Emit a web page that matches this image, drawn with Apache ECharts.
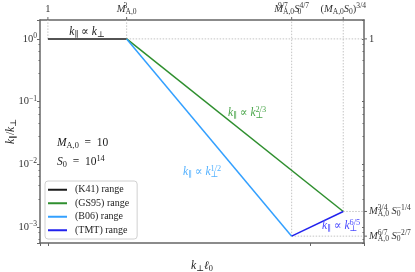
<!DOCTYPE html>
<html><head><meta charset="utf-8">
<script src="https://cdn.jsdelivr.net/npm/echarts@6/dist/echarts.min.js"></script>
<style>html,body{margin:0;padding:0;background:#fff}#c{width:415px;height:272px}</style>
</head><body><div id="c"></div>
<script>
// ---------------- data ----------------
const seriesNames = ['(K41) range', '(GS95) range', '(B06) range', '(TMT) range'];
const seriesColors = ['#1a1a1a', '#2f8f2f', '#33a0ff', '#2222ee'];
const k41X = [1, 1e3];
const k41Y = [1, 1];
const gs95X = [1e3, 1.78e11];
const gs95Y = [1, 1.78e-3];
const b06X = [1e3, 1.93e9];
const b06Y = [1, 7.2e-4];
const tmtX = [1.93e9, 1.78e11];
const tmtY = [7.2e-4, 1.78e-3];
const xRange = [0.5, 1.1e12];
const yRange = [5.6e-4, 2.0];
const xLabelExponents = [1, 3, 5, 7, 9, 11];
const yLabelExponents = [0, -1, -2, -3];
const topTickValues = [1, 1e3, 1.93e9, 1.78e11];
const topTickLabels = [
  '{n|1}',
  '{i|M}{supz|3}{sub|A,0}',
  '{i|M}{supz|9/7}{sub|A,0}{i|S}{subz|0}{sup|4/7}',
  '{n|(}{i|M}{sub|A,0}{i|S}{sub|0}{n|)}{sup|3/4}'
];
const rightTickValues = [1, 1.78e-3, 7.2e-4];
const rightTickLabels = [
  '{n|1}',
  '{i|M}{supz|3/4}{sub|A,0}{n| }{i|S}{subz|0}{sup|−1/4}',
  '{i|M}{supz|6/7}{sub|A,0}{n| }{i|S}{subz|0}{sup|−2/7}'
];
const annotations = [
  {text: '{i|k}{sub|∥}{n| ∝ }{i|k}{sub|⊥}', color: '#1a1a1a', x: 87, y: 32, align: 'center'},
  {text: '{i|M}{sub|A,0}{n|  =  10}', color: '#1a1a1a', x: 57, y: 143, align: 'left'},
  {text: '{i|S}{sub|0}{n|  =  10}{sup|14}', color: '#1a1a1a', x: 57, y: 162, align: 'left'},
  {text: '{i|k}{sub|∥}{n| ∝ }{i|k}{subz|⊥}{sup|2/3}', color: '#4aa64a', x: 228, y: 113, align: 'left'},
  {text: '{i|k}{sub|∥}{n| ∝ }{i|k}{subz|⊥}{sup|1/2}', color: '#55b2ff', x: 183, y: 172, align: 'left'},
  {text: '{i|k}{sub|∥}{n| ∝ }{i|k}{subz|⊥}{sup|6/5}', color: '#4a4aff', x: 322, y: 226, align: 'left'}
];

// ---------------- styles ----------------
const FONT = 'Liberation Serif, DejaVu Serif, serif';
function rich(size, color) {
  const s = Math.round(size * 0.72 * 10) / 10;
  const base = {fontFamily: FONT, fontSize: size, lineHeight: 14, color: color, fill: color};
  const small = {fontFamily: FONT, fontSize: s, lineHeight: s, color: color, fill: color};
  return {
    n: Object.assign({}, base),
    i: Object.assign({}, base, {fontStyle: 'italic'}),
    sup: Object.assign({}, small, {verticalAlign: 'top'}),
    sub: Object.assign({}, small, {verticalAlign: 'bottom'}),
    supz: Object.assign({}, small, {verticalAlign: 'top', width: 0.01}),
    subz: Object.assign({}, small, {verticalAlign: 'bottom', width: 0.01})
  };
}
const AX = '#666';
const pairs = (xs, ys) => xs.map((x, i) => [x, ys[i]]);
function expLabel(allowed) {
  return function (v) {
    const e = Math.log10(v);
    const r = Math.round(e);
    if (Math.abs(e - r) > 1e-6 || allowed.indexOf(r) < 0) return '';
    return '{n|10}{sup|' + (r < 0 ? '−' + (-r) : r) + '}';
  };
}

const chart = echarts.init(document.getElementById('c'), null, {renderer: 'canvas'});
const lineData = [pairs(k41X, k41Y), pairs(gs95X, gs95Y), pairs(b06X, b06Y), pairs(tmtX, tmtY)];
const series = lineData.map((d, k) => ({
  name: seriesNames[k], type: 'line', data: d, symbol: 'none', z: 5,
  lineStyle: {color: seriesColors[k], width: 1.5}, itemStyle: {color: seriesColors[k]}
}));
// dotted guide lines from break points to the upper / right frame
const guides = [];
topTickValues.forEach((x, k) => {
  const yv = k === 0 ? 1 : k === 1 ? 1 : k === 2 ? b06Y[1] : gs95Y[1];
  guides.push([[x, yv], [x, yRange[1]]]);
});
rightTickValues.forEach((y, k) => {
  const xv = k === 0 ? k41X[1] : k === 1 ? gs95X[1] : b06X[1];
  guides.push([[xv, y], [xRange[1], y]]);
});
guides.forEach(g => series.push({
  type: 'line', data: g, symbol: 'none', silent: true, z: 1,
  lineStyle: {color: '#c4c4c4', width: 1, type: [1.5, 1.5]}
}));

chart.setOption({
  animation: false,
  grid: {left: 40, right: 51, top: 20, bottom: 29, containLabel: false, outerBoundsMode: 'none'},
  legend: {
    orient: 'vertical', left: 45, top: 181, data: seriesNames,
    icon: 'rect', itemWidth: 19, itemHeight: 2, itemGap: 0,
    padding: [2, 8, 2, 3], borderColor: '#d0d0d0', borderWidth: 1, borderRadius: 3,
    backgroundColor: '#fff',
    textStyle: {fontFamily: FONT, fontSize: 10, color: '#222', lineHeight: 13.5, padding: [0, 0, 0, 3]}
  },
  xAxis: [{
    type: 'log', logBase: 10, min: xRange[0], max: xRange[1], splitNumber: 12, position: 'bottom',
    axisLine: {show: true, onZero: false, lineStyle: {color: AX, width: 1.5}},
    axisTick: {show: true, length: 3, lineStyle: {color: AX}},
    splitLine: {show: false},
    axisLabel: {formatter: expLabel(xLabelExponents), rich: rich(10.5, '#333'), margin: 3},
    name: '{i|k}{sub|⊥}{i|ℓ}{sub|0}', nameLocation: 'middle', nameGap: 16, nameMoveOverlap: false,
    nameTextStyle: {rich: rich(11.5, '#222')}
  }, {
    type: 'log', logBase: 10, min: xRange[0], max: xRange[1], position: 'top',
    axisLine: {show: true, onZero: false, lineStyle: {color: AX, width: 1.5}},
    axisTick: {show: false}, axisLabel: {show: false}, splitLine: {show: false}
  }],
  yAxis: [{
    type: 'log', logBase: 10, min: yRange[0], max: yRange[1], splitNumber: 4, position: 'left',
    axisLine: {show: true, onZero: false, lineStyle: {color: AX, width: 1.5}},
    axisTick: {show: true, length: 3, lineStyle: {color: AX}},
    minorTick: {show: true, length: 1.5, splitNumber: 5, lineStyle: {color: AX}},
    splitLine: {show: false},
    axisLabel: {formatter: expLabel(yLabelExponents), rich: rich(10.5, '#333'), margin: 3},
    name: '{i|k}{sub|∥}{n|/}{i|k}{sub|⊥}', nameLocation: 'middle', nameGap: 22, nameRotate: 90,
    nameMoveOverlap: false,
    nameTextStyle: {rich: rich(11.5, '#222')}
  }, {
    type: 'log', logBase: 10, min: yRange[0], max: yRange[1], splitNumber: 4, position: 'right',
    axisLine: {show: true, onZero: false, lineStyle: {color: AX, width: 1.5}},
    axisTick: {show: true, inside: true, length: 2, lineStyle: {color: AX}},
    minorTick: {show: true, length: 1.5, splitNumber: 5, lineStyle: {color: AX}},
    axisLabel: {show: false}, splitLine: {show: false}
  }],
  series: series
});

// secondary (top / right) labels placed through the axis scales
const px = v => chart.convertToPixel({xAxisIndex: 0}, v);
const py = v => chart.convertToPixel({yAxisIndex: 0}, v);
const topPx = py(yRange[1]);
const rightPx = px(xRange[1]);
const graphic = [];
topTickValues.forEach((v, k) => {
  const x = px(v);
  graphic.push({type: 'line', shape: {x1: x, y1: topPx, x2: x, y2: topPx - 3}, style: {stroke: AX, lineWidth: 1}, silent: true});
  graphic.push({type: 'text', x: x, y: topPx - 4, silent: true,
    style: {text: topTickLabels[k], rich: rich(10.5, '#333'), align: 'center', verticalAlign: 'bottom', fill: '#333'}});
});
rightTickValues.forEach((v, k) => {
  const y = py(v);
  graphic.push({type: 'line', shape: {x1: rightPx, y1: y, x2: rightPx + 3, y2: y}, style: {stroke: AX, lineWidth: 1}, silent: true});
  graphic.push({type: 'text', x: rightPx + 5, y: y, silent: true,
    style: {text: rightTickLabels[k], rich: rich(10.5, '#333'), align: 'left', verticalAlign: 'middle', fill: '#333'}});
});
annotations.forEach(a => graphic.push({type: 'text', x: a.x, y: a.y, silent: true, z: 10,
  style: {text: a.text, rich: rich(11.5, a.color), align: a.align, verticalAlign: 'middle', fill: a.color}}));
chart.setOption({graphic: graphic});
</script></body></html>
